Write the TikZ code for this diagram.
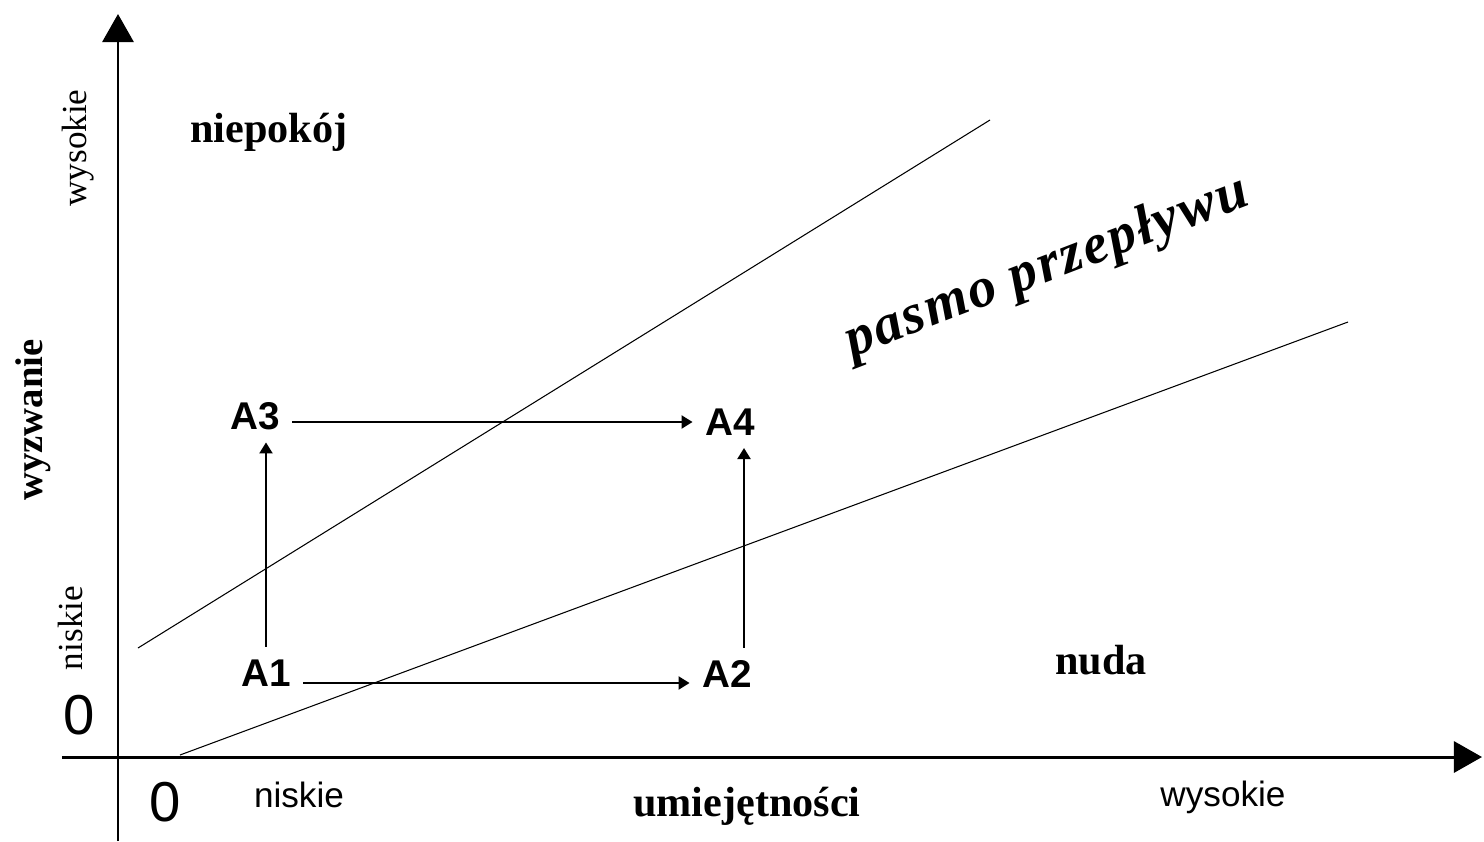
\documentclass[tikz,border=0pt]{standalone}
\usepackage{fontspec}
\setmainfont{Liberation Serif}
\setsansfont{Liberation Sans}
\newfontfamily\bandfont[LetterSpace=4]{Liberation Serif}
\usetikzlibrary{arrows.meta}
\newcommand{\bandangle}{21}

\begin{document}
\begin{tikzpicture}[x=0.01cm,y=0.01cm,
  state/.style={font=\sffamily\bfseries\fontsize{11}{13}\selectfont, inner sep=0.12cm},
  move/.style={line width=0.6pt,-{Triangle[length=0.11cm,width=0.13cm]}},
  axis/.style={line width=0.85pt,-{Triangle[length=0.28cm,width=0.31cm]}},
  zone/.style={font=\bfseries\fontsize{12}{14}\selectfont},
  tick/.style={font=\sffamily\fontsize{10}{12}\selectfont},
  vtick/.style={font=\fontsize{10}{12}\selectfont, rotate=90},
  zero/.style={font=\sffamily\fontsize{16}{18}\selectfont}]

\useasboundingbox (-118,-84) rectangle (1366,757);

% draw axes
\coordinate (xstart) at (-56,0);
\coordinate (xend) at (1364,0);
\coordinate (ystart) at (0,-84);
\coordinate (yend) at (0,743);
\draw[axis] (xstart) -- (xend);
\draw[axis] (ystart) -- (yend);

% draw band
\draw[line width=0.3pt] (20,109) -- (872,637);
\draw[line width=0.3pt] (62,2) -- (1230,435);

% zones
\node[zone] (anxiety) at (151,625) {niepokój};
\node[zone] (boredom) at (983,97) {nuda};
\node[font={\bandfont\fontsize{16}{18}\selectfont\bfseries\itshape}, rotate=\bandangle] (band) at (929,489) {pasmo przepływu};

% axis labels
\node[font=\bfseries\fontsize{11}{13}\selectfont, rotate=90] (challenge) at (-85,337) {wyzwanie};
\node[vtick] (ylow) at (-48,129) {niskie};
\node[vtick] (yhigh) at (-40,609) {wysokie};
\node[zero] (yzero) at (-39,42) {0};
\node[zero] (xzero) at (47,-45) {0};
\node[tick] (xlow) at (181,-38) {niskie};
\node[zone] (skills) at (629,-49) {umiejętności};
\node[tick] (xhigh) at (1105,-40) {wysokie};

% draw points
\node[state] (A1) at (148,84) {A1};
\node[state] (A2) at (609,83) {A2};
\node[state] (A3) at (137,341) {A3};
\node[state] (A4) at (612,335) {A4};

\draw[move] ([yshift=-0.1cm]A1.east) -- ([yshift=-0.1cm]A1.east -| A2.west);
\draw[move] ([yshift=-0.06cm]A3.east) -- ([yshift=-0.06cm]A3.east -| A4.west);
\draw[move] (A1.north) -- (A1.north |- A3.south);
\draw[move] ([xshift=0.17cm]A2.north) -- ([xshift=0.17cm]A2.north |- A4.south);

\end{tikzpicture}
\end{document}
